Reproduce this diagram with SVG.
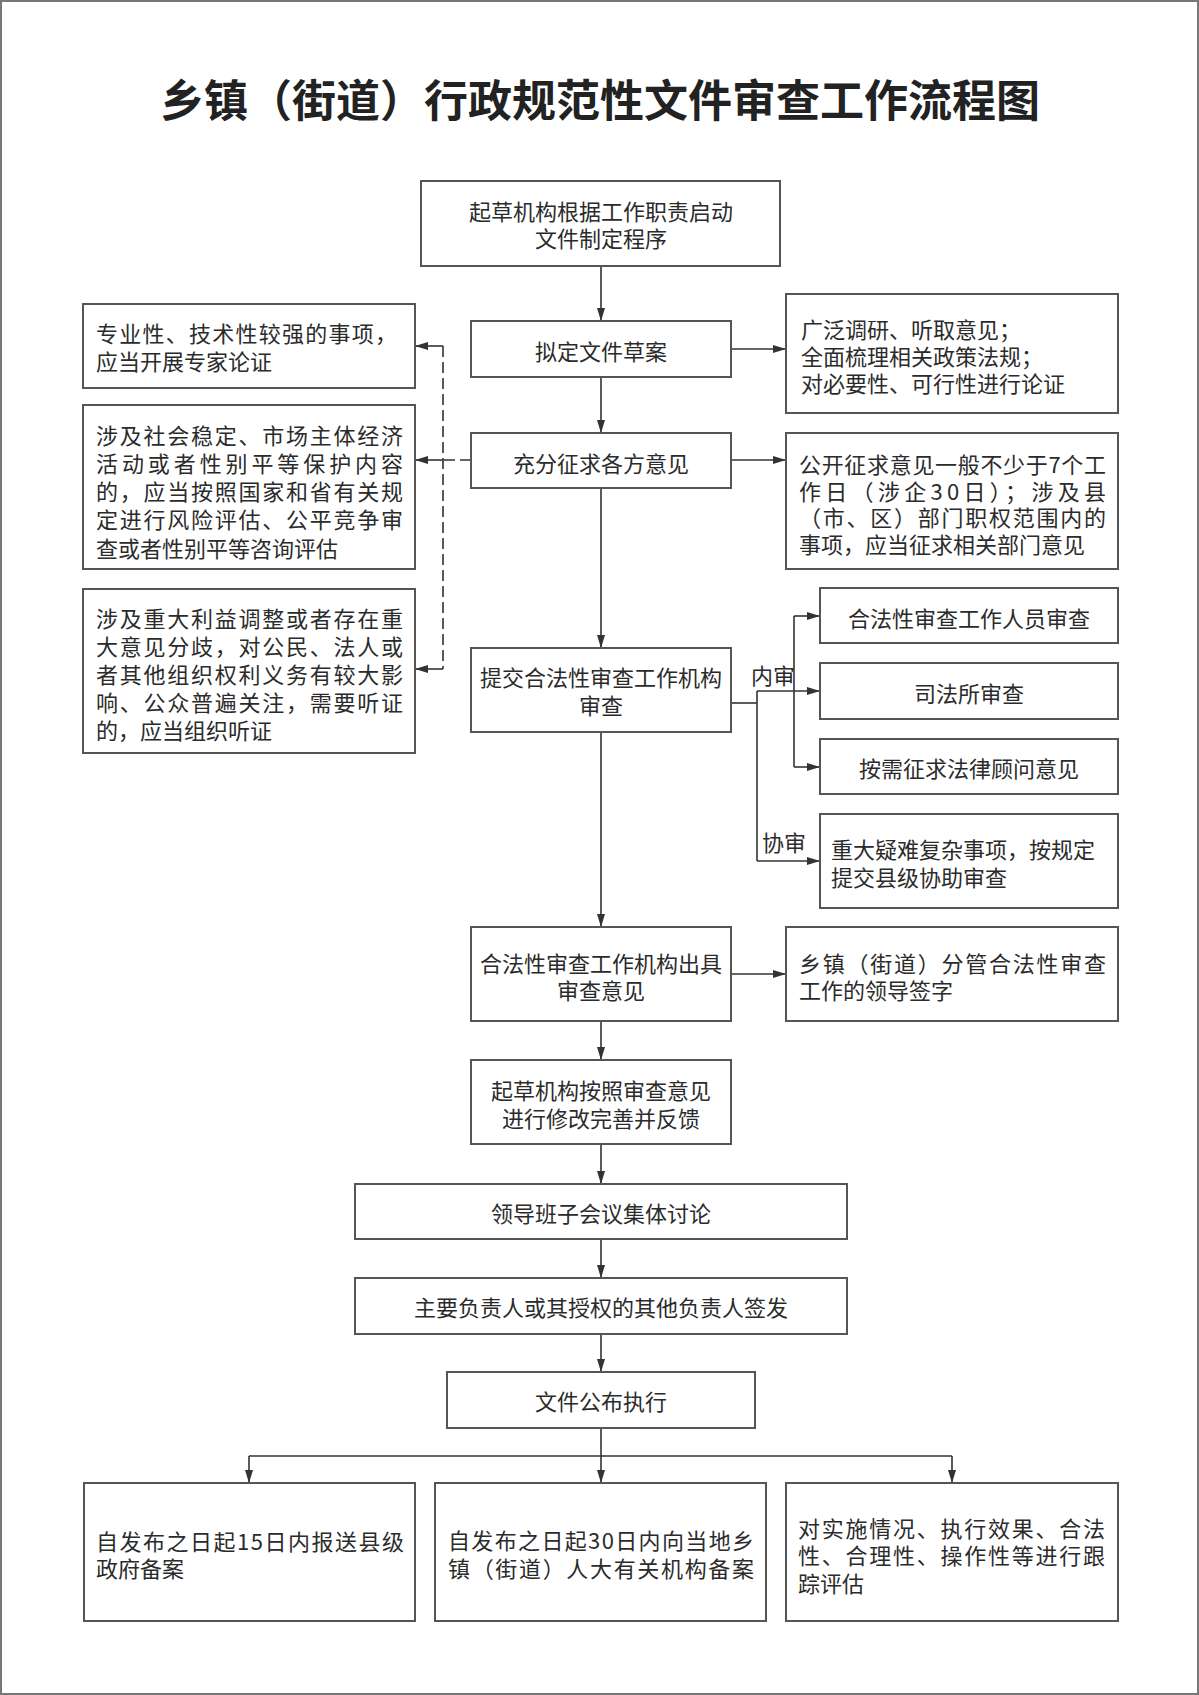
<svg xmlns="http://www.w3.org/2000/svg" width="1199" height="1695" viewBox="0 0 1199 1695">
<defs>
<style>
.bx{fill:#fff;stroke:#555;stroke-width:2}
.t{font-family:"Noto Sans CJK SC","Noto Sans",sans-serif;font-size:22px;fill:#2b2b2b;dominant-baseline:central}
.c{text-anchor:middle}
.ln{fill:none;stroke:#333;stroke-width:1.6}
.dash{fill:none;stroke:#333;stroke-width:1.6;stroke-dasharray:11 5}
.title{font-family:"Noto Sans CJK SC","Noto Sans",sans-serif;font-size:44px;font-weight:700;fill:#222;text-anchor:middle;dominant-baseline:central}
</style>
<marker id="ar" markerUnits="userSpaceOnUse" markerWidth="14" markerHeight="9" refX="13" refY="4" orient="auto">
<path d="M0,0 L13,4 L0,8 z" fill="#333"/>
</marker>
</defs>
<rect x="0" y="0" width="1199" height="1695" fill="#fff"/>
<rect x="1" y="1" width="1197" height="1693" fill="none" stroke="#777" stroke-width="2"/>
<text class="title" x="600" y="98">乡镇（街道）行政规范性文件审查工作流程图</text>

<g id="connectors">
<line class="ln" x1="601" y1="266" x2="601" y2="321" marker-end="url(#ar)"/>
<line class="ln" x1="601" y1="377" x2="601" y2="433" marker-end="url(#ar)"/>
<line class="ln" x1="601" y1="488" x2="601" y2="648" marker-end="url(#ar)"/>
<line class="ln" x1="601" y1="732" x2="601" y2="927" marker-end="url(#ar)"/>
<line class="ln" x1="601" y1="1021" x2="601" y2="1060" marker-end="url(#ar)"/>
<line class="ln" x1="601" y1="1144" x2="601" y2="1184" marker-end="url(#ar)"/>
<line class="ln" x1="601" y1="1239" x2="601" y2="1278" marker-end="url(#ar)"/>
<line class="ln" x1="601" y1="1334" x2="601" y2="1372" marker-end="url(#ar)"/>
<line class="ln" x1="601" y1="1428" x2="601" y2="1483" marker-end="url(#ar)"/>
<path class="ln" d="M249,1456 H952"/>
<line class="ln" x1="249" y1="1456" x2="249" y2="1483" marker-end="url(#ar)"/>
<line class="ln" x1="952" y1="1456" x2="952" y2="1483" marker-end="url(#ar)"/>
<line class="ln" x1="731" y1="349" x2="786" y2="349" marker-end="url(#ar)"/>
<line class="ln" x1="731" y1="460" x2="786" y2="460" marker-end="url(#ar)"/>
<line class="ln" x1="731" y1="974" x2="786" y2="974" marker-end="url(#ar)"/>
<path class="ln" d="M731,703 H757"/>
<path class="ln" d="M757,691 V861"/>
<line class="ln" x1="757" y1="691" x2="820" y2="691" marker-end="url(#ar)"/>
<line class="ln" x1="757" y1="861" x2="820" y2="861" marker-end="url(#ar)"/>
<path class="ln" d="M794,616 V767"/>
<line class="ln" x1="794" y1="616" x2="820" y2="616" marker-end="url(#ar)"/>
<line class="ln" x1="794" y1="767" x2="820" y2="767" marker-end="url(#ar)"/>
<path class="dash" d="M471,460 H443"/>
<path class="dash" d="M443,346 V669"/>
<line class="ln" x1="443" y1="346" x2="415" y2="346" marker-end="url(#ar)"/>
<line class="ln" x1="443" y1="460" x2="415" y2="460" marker-end="url(#ar)"/>
<line class="ln" x1="443" y1="669" x2="415" y2="669" marker-end="url(#ar)"/>
<text class="t" x="751" y="674">内审</text>
<text class="t" x="762" y="841">协审</text>
</g>

<g id="start">
<rect class="bx" x="421" y="181" width="359" height="85"/>
<text class="t c" x="601" y="210">起草机构根据工作职责启动</text>
<text class="t c" x="601" y="237">文件制定程序</text>
</g>
<g id="draft">
<rect class="bx" x="471" y="321" width="260" height="56"/>
<text class="t c" x="601" y="350">拟定文件草案</text>
</g>
<g id="draft-note">
<rect class="bx" x="786" y="294" width="332" height="119"/>
<text class="t" x="801" y="328">广泛调研、听取意见；</text>
<text class="t" x="801" y="355">全面梳理相关政策法规；</text>
<text class="t" x="801" y="382">对必要性、可行性进行论证</text>
</g>
<g id="consult">
<rect class="bx" x="471" y="433" width="260" height="55"/>
<text class="t c" x="601" y="462">充分征求各方意见</text>
</g>
<g id="consult-note">
<rect class="bx" x="786" y="433" width="332" height="136"/>
<text class="t" x="799" y="463" textLength="307" lengthAdjust="spacing">公开征求意见一般不少于7个工</text>
<text class="t" x="799" y="490" textLength="307" lengthAdjust="spacing">作日（涉企30日）；涉及县</text>
<text class="t" x="799" y="516" textLength="307" lengthAdjust="spacing">（市、区）部门职权范围内的</text>
<text class="t" x="799" y="543">事项，应当征求相关部门意见</text>
</g>
<g id="expert">
<rect class="bx" x="83" y="304" width="332" height="84"/>
<text class="t" x="96" y="332" textLength="301" lengthAdjust="spacing">专业性、技术性较强的事项，</text>
<text class="t" x="96" y="360">应当开展专家论证</text>
</g>
<g id="risk">
<rect class="bx" x="83" y="405" width="332" height="164"/>
<text class="t" x="96" y="434" textLength="307" lengthAdjust="spacing">涉及社会稳定、市场主体经济</text>
<text class="t" x="96" y="462" textLength="307" lengthAdjust="spacing">活动或者性别平等保护内容</text>
<text class="t" x="96" y="490" textLength="307" lengthAdjust="spacing">的，应当按照国家和省有关规</text>
<text class="t" x="96" y="518" textLength="307" lengthAdjust="spacing">定进行风险评估、公平竞争审</text>
<text class="t" x="96" y="547">查或者性别平等咨询评估</text>
</g>
<g id="hearing">
<rect class="bx" x="83" y="589" width="332" height="164"/>
<text class="t" x="96" y="617" textLength="307" lengthAdjust="spacing">涉及重大利益调整或者存在重</text>
<text class="t" x="96" y="645" textLength="307" lengthAdjust="spacing">大意见分歧，对公民、法人或</text>
<text class="t" x="96" y="673" textLength="307" lengthAdjust="spacing">者其他组织权利义务有较大影</text>
<text class="t" x="96" y="701" textLength="307" lengthAdjust="spacing">响、公众普遍关注，需要听证</text>
<text class="t" x="96" y="729">的，应当组织听证</text>
</g>
<g id="submit">
<rect class="bx" x="471" y="648" width="260" height="84"/>
<text class="t c" x="601" y="676">提交合法性审查工作机构</text>
<text class="t c" x="601" y="704">审查</text>
</g>
<g id="staff">
<rect class="bx" x="820" y="588" width="298" height="55"/>
<text class="t c" x="969" y="617">合法性审查工作人员审查</text>
</g>
<g id="judicial">
<rect class="bx" x="820" y="663" width="298" height="56"/>
<text class="t c" x="969" y="692">司法所审查</text>
</g>
<g id="counsel">
<rect class="bx" x="820" y="739" width="298" height="55"/>
<text class="t c" x="969" y="767">按需征求法律顾问意见</text>
</g>
<g id="county">
<rect class="bx" x="820" y="814" width="298" height="94"/>
<text class="t" x="831" y="848">重大疑难复杂事项，按规定</text>
<text class="t" x="831" y="876">提交县级协助审查</text>
</g>
<g id="opinion">
<rect class="bx" x="471" y="927" width="260" height="94"/>
<text class="t c" x="601" y="962">合法性审查工作机构出具</text>
<text class="t c" x="601" y="989">审查意见</text>
</g>
<g id="sign-note">
<rect class="bx" x="786" y="927" width="332" height="94"/>
<text class="t" x="799" y="962" textLength="307" lengthAdjust="spacing">乡镇（街道）分管合法性审查</text>
<text class="t" x="799" y="989">工作的领导签字</text>
</g>
<g id="revise">
<rect class="bx" x="471" y="1060" width="260" height="84"/>
<text class="t c" x="601" y="1089">起草机构按照审查意见</text>
<text class="t c" x="601" y="1117">进行修改完善并反馈</text>
</g>
<g id="meeting">
<rect class="bx" x="355" y="1184" width="492" height="55"/>
<text class="t c" x="601" y="1212">领导班子会议集体讨论</text>
</g>
<g id="issue">
<rect class="bx" x="355" y="1278" width="492" height="56"/>
<text class="t c" x="601" y="1306">主要负责人或其授权的其他负责人签发</text>
</g>
<g id="publish">
<rect class="bx" x="447" y="1372" width="308" height="56"/>
<text class="t c" x="601" y="1400">文件公布执行</text>
</g>
<g id="file-county">
<rect class="bx" x="84" y="1483" width="331" height="138"/>
<text class="t" x="96" y="1540" textLength="308" lengthAdjust="spacing">自发布之日起15日内报送县级</text>
<text class="t" x="96" y="1567">政府备案</text>
</g>
<g id="file-npc">
<rect class="bx" x="435" y="1483" width="331" height="138"/>
<text class="t" x="448" y="1539" textLength="306" lengthAdjust="spacing">自发布之日起30日内向当地乡</text>
<text class="t" x="448" y="1567" textLength="306" lengthAdjust="spacing">镇（街道）人大有关机构备案</text>
</g>
<g id="evaluate">
<rect class="bx" x="786" y="1483" width="332" height="138"/>
<text class="t" x="798" y="1527" textLength="307" lengthAdjust="spacing">对实施情况、执行效果、合法</text>
<text class="t" x="798" y="1554" textLength="307" lengthAdjust="spacing">性、合理性、操作性等进行跟</text>
<text class="t" x="798" y="1582">踪评估</text>
</g>
</svg>
